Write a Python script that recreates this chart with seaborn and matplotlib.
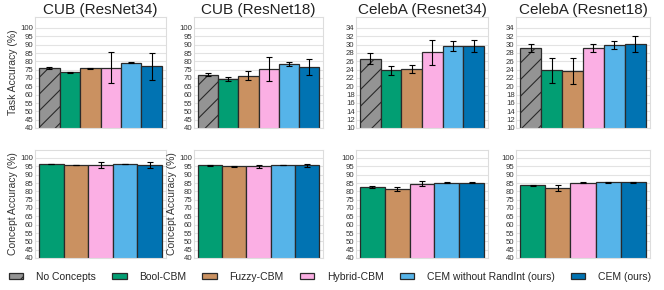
import matplotlib
matplotlib.use("Agg")
import matplotlib.pyplot as plt
import matplotlib.patches as mpatches
import seaborn as sns
import pandas as pd
import numpy as np

sns.set_theme(style="whitegrid")
plt.rcParams['font.family'] = ['Liberation Sans', 'DejaVu Sans']
plt.rcParams['hatch.color'] = '#1a1a1a'
plt.rcParams['hatch.linewidth'] = 0.8

methods = ["No Concepts", "Bool-CBM", "Fuzzy-CBM", "Hybrid-CBM",
           "CEM without RandInt (ours)", "CEM (ours)"]
colors = ["#949494", "#029e73", "#ca9161", "#fbafe4", "#56b4e9", "#0173b2"]

titles = ["CUB (ResNet34)", "CUB (ResNet18)", "CelebA (Resnet34)", "CelebA (Resnet18)"]

task_mean = [
    [76.2, 73.6, 75.8, 76.2, 79.2, 77.0],
    [72.0, 69.2, 71.4, 75.4, 78.2, 76.6],
    [26.6, 23.8, 24.1, 28.1, 29.6, 29.6],
    [29.1, 23.8, 23.6, 29.1, 29.8, 30.2],
]
task_err = [
    [0.5, 0.3, 0.2, 9.2, 0.4, 8.0],
    [1.0, 1.2, 2.6, 7.4, 1.2, 4.8],
    [1.3, 1.15, 0.9, 3.0, 1.2, 1.4],
    [1.0, 2.9, 3.1, 0.95, 0.95, 1.95],
]
concept_mean = [
    [96.4, 96.0, 95.8, 96.4, 95.8],
    [95.6, 95.2, 95.0, 95.8, 95.6],
    [82.6, 81.4, 84.6, 85.2, 85.2],
    [83.8, 82.0, 85.2, 85.4, 85.4],
]
concept_err = [
    [0.1, 0.1, 1.8, 0.1, 1.9],
    [0.1, 0.3, 0.8, 0.1, 1.0],
    [0.5, 1.4, 1.6, 0.3, 0.4],
    [0.3, 1.7, 0.3, 0.4, 0.4],
]

fig = plt.figure(figsize=(6.64, 2.9), dpi=100)
lefts = [35, 194, 356, 516]
widths = [131, 129, 132, 134]
W, H = 664, 290
top_row = (17, 128)
bot_row = (150, 258)

edge = "#2a2a2a"

def style_ax(ax):
    ax.grid(axis='y', color='#e3e3e3', lw=0.8)
    ax.grid(axis='x', visible=False)
    for s in ax.spines.values():
        s.set_color('#dddddd')
        s.set_linewidth(0.8)
    ax.tick_params(axis='y', length=0, pad=1, labelsize=5.6, colors='#333333')
    ax.set_xticks([])
    ax.set_xlabel("")

for c in range(4):
    # top row
    ax = fig.add_axes([lefts[c] / W, 1 - top_row[1] / H, widths[c] / W,
                       (top_row[1] - top_row[0]) / H])
    df = pd.DataFrame({"method": methods, "value": task_mean[c]})
    sns.barplot(data=df, x="method", y="value", hue="method", palette=colors,
                width=1.0, saturation=1, edgecolor=edge, linewidth=0.9,
                legend=False, ax=ax)
    ax.patches[0].set_hatch('//')
    ax.errorbar(np.arange(len(methods)), task_mean[c], yerr=task_err[c], fmt='none',
                ecolor='black', elinewidth=0.8, capsize=2.2, capthick=0.8)
    ax.set_xlim(-0.7, len(methods) - 0.3)
    if c < 2:
        ax.set_ylim(40, 106.6)
        ax.set_yticks(np.arange(40, 101, 5))
    else:
        ax.set_ylim(10, 36.6)
        ax.set_yticks(np.arange(10, 35, 2))
    style_ax(ax)
    ax.set_title(titles[c], fontsize=11, pad=2, color='#222222')
    ax.set_ylabel("Task Accuracy (%)" if c == 0 else "", fontsize=7.5, labelpad=2, color='#333333')

    # bottom row
    ax2 = fig.add_axes([lefts[c] / W, 1 - bot_row[1] / H, widths[c] / W,
                        (bot_row[1] - bot_row[0]) / H])
    df2 = pd.DataFrame({"method": methods[1:], "value": concept_mean[c]})
    sns.barplot(data=df2, x="method", y="value", hue="method", palette=colors[1:],
                width=1.0, saturation=1, edgecolor=edge, linewidth=0.9,
                legend=False, ax=ax2)
    ax2.errorbar(np.arange(len(methods) - 1), concept_mean[c], yerr=concept_err[c], fmt='none',
                 ecolor='black', elinewidth=0.8, capsize=2.2, capthick=0.8)
    ax2.set_xlim(-0.66, len(methods) - 1 - 0.34)
    ax2.set_ylim(40, 104.8)
    ax2.set_yticks(np.arange(40, 101, 5))
    style_ax(ax2)
    ax2.set_ylabel("Concept Accuracy (%)" if c < 2 else "", fontsize=7.5, labelpad=2, color='#333333')

handles = []
for i, (m, col) in enumerate(zip(methods, colors)):
    p = mpatches.Patch(facecolor=col, edgecolor=edge, linewidth=0.9,
                       hatch='//' if i == 0 else None, label=m)
    handles.append(p)
fig.legend(handles=handles, loc='center', bbox_to_anchor=(0.497, 1 - 277 / H), ncol=6,
           frameon=False, fontsize=7.5, handlelength=1.4, handleheight=0.55,
           handletextpad=1.2, columnspacing=1.55, borderaxespad=0, borderpad=0)

fig.savefig("out.png", dpi=100, facecolor='white')
